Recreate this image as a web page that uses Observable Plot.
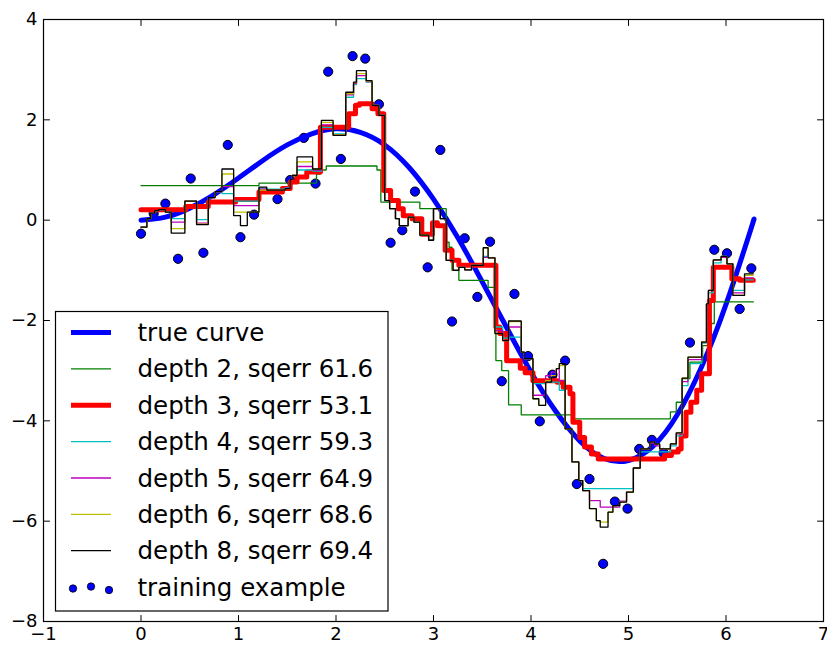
<!DOCTYPE html>
<html><head><meta charset="utf-8">
<script src="https://cdn.jsdelivr.net/npm/d3@7"></script>
<script src="https://cdn.jsdelivr.net/npm/@observablehq/plot@0.6"></script>
<style>
body{margin:0;background:#fff}
#wrap{position:relative;width:827px;height:648px}
#legend{position:absolute;left:0;top:0;pointer-events:none}
</style>
</head><body><div id="wrap"></div>
<script>
// ---- data ----
const xTicks = [-1, 0, 1, 2, 3, 4, 5, 6, 7];
const yTicks = [-8, -6, -4, -2, 0, 2, 4];
const xEnd = 6.28;

const trueX = [0, 0.25, 0.5, 0.75, 1, 1.25, 1.5, 1.75, 2, 2.25, 2.5, 2.75, 3, 3.25, 3.5, 3.75, 4, 4.25, 4.5, 4.75, 5, 5.25, 5.5, 5.75, 6, 6.25, 6.28];
const trueY = [0, 0.06, 0.24, 0.51, 0.84, 1.19, 1.50, 1.72, 1.82, 1.75, 1.50, 1.05, 0.42, -0.35, -1.23, -2.14, -3.03, -3.80, -4.40, -4.75, -4.79, -4.51, -3.88, -2.92, -1.68, -0.21, -0.02];

const trainX = [0.00,0.13,0.25,0.38,0.51,0.64,0.89,1.02,1.16,1.40,1.53,1.67,1.79,1.92,2.05,2.17,2.30,2.44,2.56,2.68,2.81,2.94,3.07,3.19,3.32,3.45,3.58,3.70,3.83,3.97,4.09,4.22,4.35,4.47,4.60,4.74,4.86,4.99,5.11,5.24,5.36,5.63,5.88,6.01,6.14,6.26];
const trainY = [-0.27,0.13,0.33,-0.77,0.83,-0.65,1.50,-0.34,0.11,0.42,0.80,1.64,0.73,2.96,1.22,3.27,3.22,2.31,-0.45,-0.20,0.57,-0.94,1.40,-2.02,-0.36,-1.53,-0.43,-3.21,-1.47,-2.71,-4.01,-3.08,-2.80,-5.26,-5.16,-6.85,-5.61,-5.75,-4.56,-4.38,-4.64,-2.44,-0.59,-0.66,-1.77,-0.96];

const depth2X = [0, 1.21, 1.80, 1.84, 1.90, 2.42, 2.46, 2.86, 3.13, 3.16, 3.19, 3.26, 3.56, 3.64, 3.70, 3.77, 3.90, 4.43, 5.43, 5.49, 5.55, 5.63, 5.76, 5.85, 5.88];
const depth2Y = [0.69, 0.74, 0.92, 1.00, 1.08, 1.00, 0.36, 0.23, -0.44, -0.54, -1.00, -1.20, -1.34, -2.80, -3.00, -3.68, -3.88, -3.96, -3.82, -3.63, -3.16, -2.83, -2.50, -2.06, -1.63];

const depth3X = [0, 0.46, 0.69, 0.97, 1.21, 1.45, 1.53, 1.60, 1.70, 1.84, 2.13, 2.20, 2.24, 2.37, 2.43, 2.49, 2.56, 2.64, 2.69, 2.78, 2.88, 2.99, 3.04, 3.12, 3.19, 3.26, 3.64, 3.68, 3.75, 3.89, 3.94, 4.02, 4.27, 4.33, 4.40, 4.43, 4.50, 4.55, 4.62, 4.69, 5.37, 5.44, 5.51, 5.54, 5.59, 5.64, 5.70, 5.75, 5.83, 5.87, 6.06, 6.14];
const depth3Y = [0.21, 0.27, 0.36, 0.41, 0.56, 0.63, 0.76, 0.86, 0.96, 1.85, 2.12, 2.29, 2.32, 2.22, 2.12, 0.59, 0.39, 0.23, 0.09, 0.03, -0.28, -0.05, -0.11, -0.60, -0.80, -0.90, -2.13, -2.26, -2.80, -2.95, -3.04, -3.20, -3.23, -3.33, -3.46, -4.03, -4.33, -4.52, -4.66, -4.76, -4.69, -4.62, -4.56, -4.30, -3.83, -3.63, -3.39, -3.06, -1.60, -0.94, -1.17, -1.20];

// shared split positions for the deeper trees
const fineX = [0,0.06,0.10,0.14,0.18,0.25,0.31,0.45,0.57,0.69, 0.76,0.83,0.95,1.02,1.09,1.21,1.29,1.48,1.53,1.55, 1.60,1.76,1.85,1.97,2.10,2.18,2.21,2.31,2.37,2.44, 2.50,2.55,2.61,2.65,2.74,2.80,2.86,2.95,3.00,3.07, 3.13,3.20,3.26,3.32,3.39,3.51,3.56,3.63,3.71,3.77, 3.90,3.93,4.02,4.08,4.15,4.21,4.26,4.29,4.35,4.42, 4.49,4.53,4.60,4.67,4.71,4.79,4.84,4.91,4.98,5.05, 5.12,5.22,5.27,5.32,5.43,5.49,5.55,5.61,5.75,5.80, 5.82,5.87,5.95,6.01,6.07,6.19];
const depth8Y = [-0.14,0.03,0.14,0.19,0.21,0.16,-0.26,0.38,-0.09,0.45, 0.57,1.02,0.09,-0.11,0.16,0.66,0.60,0.63,0.81,0.89, 1.26,1.02,1.99,1.69,2.55,2.75,2.98,2.78,2.29,2.09, 0.39,0.23,0.03,-0.11,0.06,-0.04,-0.30,-0.40,0.23,0.03, -0.80,-1.00,-0.94,-0.99,-0.90,-0.55,-0.75,-2.26,-2.40,-2.01, -2.63,-2.76,-3.56,-3.69,-3.23,-3.13,-2.96,-2.86,-4.16,-4.82, -5.19,-5.39,-5.75,-5.99,-6.12,-5.82,-5.69,-5.62,-5.42,-4.94, -4.56,-4.42,-4.46,-4.56,-4.46,-4.24,-3.15,-2.73,-2.43,-1.67, -1.40,-0.79,-0.72,-0.87,-1.50,-1.07];
const depth4Y = [-0.14,0.03,0.14,0.19,0.21,0.16,0.03,0.38,0.01,0.45, 0.57,0.53,0.38,0.38,0.38,0.64,0.62,0.65,0.81,0.89, 1.00,0.98,1.85,1.72,2.45,2.70,2.82,2.75,2.29,2.09, 0.39,0.23,0.03,-0.11,0.06,-0.04,-0.30,-0.40,0.23,0.03, -0.80,-1.00,-0.94,-0.99,-0.90,-0.72,-0.75,-2.13,-2.35,-2.33, -2.63,-2.76,-3.26,-3.26,-3.23,-3.23,-3.23,-3.39,-4.16,-4.82, -5.19,-5.35,-5.35,-5.35,-5.35,-5.35,-5.35,-5.35,-5.35,-4.94, -4.62,-4.62,-4.62,-4.62,-4.50,-4.30,-3.30,-2.86,-2.45,-1.67, -1.45,-0.85,-0.72,-0.87,-1.40,-1.19];
const depth5Y = [-0.14,0.03,0.14,0.19,0.21,0.16,-0.04,0.38,-0.06,0.45, 0.57,0.67,0.29,0.29,0.29,0.62,0.61,0.64,0.81,0.89, 1.07,1.00,1.90,1.70,2.50,2.72,2.88,2.76,2.29,2.09, 0.39,0.23,0.03,-0.11,0.06,-0.04,-0.30,-0.40,0.23,0.03, -0.80,-1.00,-0.94,-0.99,-0.90,-0.74,-0.75,-2.20,-2.40,-2.13, -2.63,-2.76,-3.49,-3.49,-3.10,-3.03,-2.96,-3.20,-4.16,-4.82, -5.19,-5.39,-5.59,-5.59,-5.72,-5.72,-5.72,-5.60,-5.42,-4.94, -4.56,-4.45,-4.50,-4.56,-4.46,-4.26,-3.22,-2.78,-2.43,-1.67, -1.40,-0.80,-0.74,-0.87,-1.45,-1.15];
const depth6Y = [-0.14,0.03,0.14,0.19,0.21,0.16,-0.17,0.38,-0.08,0.45, 0.57,0.92,0.16,0.16,0.16,0.60,0.60,0.63,0.81,0.89, 1.16,1.02,1.95,1.70,2.52,2.74,2.92,2.77,2.29,2.09, 0.39,0.23,0.03,-0.11,0.06,-0.04,-0.30,-0.40,0.23,0.03, -0.80,-1.00,-0.94,-0.99,-0.90,-0.55,-0.75,-2.26,-2.40,-2.02, -2.63,-2.76,-3.56,-3.69,-3.20,-3.10,-2.96,-2.90,-4.16,-4.82, -5.19,-5.39,-5.75,-5.99,-6.02,-5.82,-5.69,-5.62,-5.42,-4.94, -4.56,-4.42,-4.46,-4.56,-4.46,-4.24,-3.15,-2.73,-2.43,-1.67, -1.40,-0.79,-0.72,-0.87,-1.50,-1.10];

const legendLabels = ["true curve", "depth 2, sqerr 61.6", "depth 3, sqerr 53.1", "depth 4, sqerr 59.3", "depth 5, sqerr 64.9", "depth 6, sqerr 68.6", "depth 8, sqerr 69.4", "training example"];

// ---- styles ----
const C = {blue: "#0000ff", green: "#008000", red: "#ff0000", cyan: "#00bfbf", magenta: "#bf00bf", yellow: "#bfbf00", black: "#000000"};
const legendColors = [C.blue, C.green, C.red, C.cyan, C.magenta, C.yellow, C.black];
const legendWidths = [5, 1.3, 5, 1.3, 1.3, 1.3, 1.3];

const pts = (xs, ys) => xs.map((x, i) => ({x, y: ys[i]}));
const steps = (xs, ys) => { const a = pts(xs, ys); a.push({x: xEnd, y: ys[ys.length - 1]}); return a; };
const fmt = d => d < 0 ? "\u2212" + Math.abs(d) : String(d);
const tickShape = {draw(context, l) { context.moveTo(0, 0); context.lineTo(0, -l); }};
const thin = {x: "x", y: "y", curve: "step-after", strokeWidth: 1.3, strokeLinejoin: "miter"};

const chart = Plot.plot({
  width: 827, height: 648,
  marginLeft: 43, marginRight: 4, marginTop: 19, marginBottom: 27,
  x: {domain: [-1, 7]},
  y: {domain: [-8, 4]},
  style: {fontFamily: "'DejaVu Sans', sans-serif", fontSize: "18px", color: "black", background: "white", overflow: "visible"},
  marks: [
    Plot.dot(pts(trainX, trainY), {x: "x", y: "y", r: 4.6, fill: C.blue, stroke: "black", strokeWidth: 1}),
    Plot.line(pts(trueX, trueY), {x: "x", y: "y", curve: "natural", stroke: C.blue, strokeWidth: 5}),
    Plot.line(steps(depth2X, depth2Y), {...thin, stroke: C.green}),
    Plot.line(steps(depth3X, depth3Y), {x: "x", y: "y", curve: "step-after", stroke: C.red, strokeWidth: 5, strokeLinejoin: "round"}),
    Plot.line(steps(fineX, depth4Y), {...thin, stroke: C.cyan}),
    Plot.line(steps(fineX, depth5Y), {...thin, stroke: C.magenta}),
    Plot.line(steps(fineX, depth6Y), {...thin, stroke: C.yellow}),
    Plot.line(steps(fineX, depth8Y), {...thin, stroke: C.black}),
    Plot.frame({stroke: "black", strokeWidth: 1.2}),
    Plot.vector(xTicks, {x: d => d, frameAnchor: "bottom", length: 6, rotate: 0, anchor: "start", shape: tickShape, stroke: "black", strokeWidth: 1}),
    Plot.vector(xTicks, {x: d => d, frameAnchor: "top", length: 6, rotate: 180, anchor: "start", shape: tickShape, stroke: "black", strokeWidth: 1}),
    Plot.vector(yTicks, {y: d => d, frameAnchor: "left", length: 6, rotate: 90, anchor: "start", shape: tickShape, stroke: "black", strokeWidth: 1}),
    Plot.vector(yTicks, {y: d => d, frameAnchor: "right", length: 6, rotate: -90, anchor: "start", shape: tickShape, stroke: "black", strokeWidth: 1}),
    Plot.axisX({ticks: xTicks, tickSize: 0, tickPadding: 6, tickFormat: fmt, label: null, fontSize: 18}),
    Plot.axisY({ticks: yTicks, tickSize: 0, tickPadding: 6, tickFormat: fmt, label: null, fontSize: 18})
  ]
});

const wrap = document.getElementById("wrap");
wrap.appendChild(chart);

// ---- legend (inside the axes, lower left) ----
const leg = d3.select(wrap).append("svg").attr("id", "legend").attr("width", 827).attr("height", 648);
leg.append("rect").attr("x", 55.5).attr("y", 311.5).attr("width", 332.5).attr("height", 299.5)
  .attr("fill", "white").attr("stroke", "black").attr("stroke-width", 1.2);
const rowY = i => 332.6 + i * 36.35;
legendLabels.forEach((label, i) => {
  const y = rowY(i);
  if (i < legendColors.length) {
    leg.append("line").attr("x1", 71).attr("x2", 111).attr("y1", y).attr("y2", y)
      .attr("stroke", legendColors[i]).attr("stroke-width", legendWidths[i]);
  } else {
    [[73, 1.5], [91, -0.5], [109, 3]].forEach(([cx, dy]) => {
      leg.append("circle").attr("cx", cx).attr("cy", y + dy).attr("r", 3.7)
        .attr("fill", C.blue).attr("stroke", "black").attr("stroke-width", 0.8);
    });
  }
  leg.append("text").attr("x", 137.5).attr("y", y).attr("dominant-baseline", "central")
    .attr("font-family", "'DejaVu Sans', sans-serif").attr("font-size", 24.5).attr("fill", "black").text(label);
});
</script>
</body></html>
